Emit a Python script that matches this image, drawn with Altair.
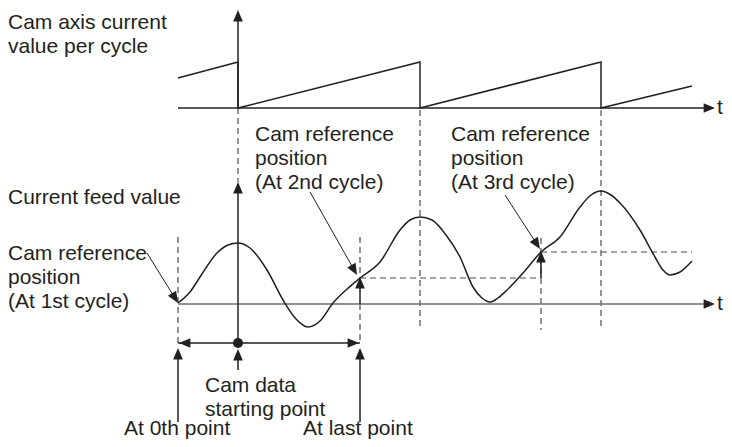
import math
import altair as alt
import pandas as pd

# ---------------- data (pixel coordinates) ----------
X_DOMAIN = [8, 724]
Y_DOMAIN = [8, 439]

# Cam axis current value per cycle (sawtooth)
saw_x = [178, 238, 238, 420, 420, 601, 601, 692]
saw_y = [78, 62, 108, 62, 108, 62, 108, 86]

# Current feed value curve
feed_x = [178, 190, 200, 217, 228, 238, 250, 267, 283, 296, 308, 320, 333, 346,
          360, 380, 400, 410, 420, 432, 446, 460, 473, 482, 490, 498, 507, 523,
          541, 560, 580, 591, 601, 611, 620, 640, 655, 663, 670, 680, 692]
feed_y = [303, 292, 277, 253, 245, 243, 248, 270, 300, 319, 327, 321, 303, 290,
          278, 262, 230, 220, 217, 220, 235, 257, 287, 298, 302, 298, 290, 273,
          252, 237, 207, 195, 191, 195, 203, 230, 257, 270, 275, 272, 261]

# solid black segments: x1, y1, x2, y2
solid_x1 = [238, 178, 238, 360, 541, 178, 238, 178, 360]
solid_y1 = [108, 108, 343, 304, 278, 343, 370, 422, 422]
solid_x2 = [238, 706, 238, 360, 541, 360, 238, 178, 360]
solid_y2 = [16, 108, 188, 282, 256, 343, 355, 352, 352]

# grey axis of the current feed value
gaxis_x1 = [178]
gaxis_y1 = [304]
gaxis_x2 = [706]
gaxis_y2 = [304]

# dashed segments
dash_x1 = [238, 178, 360, 360, 420, 601, 541, 360, 541]
dash_y1 = [108, 237, 237, 304, 110, 110, 238, 278, 252]
dash_x2 = [238, 178, 360, 360, 420, 601, 541, 541, 692]
dash_y2 = [182, 343, 278, 343, 330, 330, 330, 278, 252]

# arrows: tail -> tip
arr_tail_x = [238, 690, 690, 238, 147, 310, 505, 360, 541, 200, 340, 238, 178, 360]
arr_tail_y = [60, 108, 304, 230, 253, 192, 195, 300, 275, 343, 343, 370, 422, 422]
arr_tip_x = [238, 715, 715, 238, 178, 357, 540, 360, 541, 179, 359, 238, 178, 360]
arr_tip_y = [10, 108, 304, 182, 303, 275, 249, 277, 251, 343, 343, 349, 348, 348]
arr_line = [0, 0, 0, 0, 1, 1, 1, 0, 0, 0, 0, 0, 0, 0]  # draw thin shaft?

dot_x = [238]
dot_y = [343]

labels = ["Cam axis current", "value per cycle", "Current feed value",
          "Cam reference", "position", "(At 1st cycle)",
          "Cam reference", "position", "(At 2nd cycle)",
          "Cam reference", "position", "(At 3rd cycle)",
          "Cam data", "starting point", "At 0th point", "At last point",
          "t", "t"]
label_x = [8, 8, 8, 8, 8, 8, 255, 255, 255, 451, 451, 451, 205, 205, 124, 303, 717, 717]
label_y = [29, 53, 204, 260, 284, 308, 141, 165, 189, 141, 165, 189, 392, 416, 435, 435, 114, 310]

# ---------------- build tables ----------------
INK = "#231f20"
GREY = "#6d6e71"
DASH = "#4d4d4f"

xs = alt.Scale(domain=X_DOMAIN, zero=False, nice=False)
ys = alt.Scale(domain=Y_DOMAIN, zero=False, nice=False, reverse=True)


def X(f):
    return alt.X(f, type="quantitative", scale=xs, axis=None)


def Y(f):
    return alt.Y(f, type="quantitative", scale=ys, axis=None)


saw = pd.DataFrame({"x": saw_x, "y": saw_y, "i": range(len(saw_x))})
feed = pd.DataFrame({"x": feed_x, "y": feed_y, "i": range(len(feed_x))})
solid = pd.DataFrame({"x": solid_x1, "y": solid_y1, "x2": solid_x2, "y2": solid_y2})
gaxis = pd.DataFrame({"x": gaxis_x1, "y": gaxis_y1, "x2": gaxis_x2, "y2": gaxis_y2})
dash = pd.DataFrame({"x": dash_x1, "y": dash_y1, "x2": dash_x2, "y2": dash_y2})

HEAD_SIZE = 130
HEAD = math.sqrt(HEAD_SIZE) / 2.0  # half length of head in px
heads = []
shafts = []
for tx, ty, px, py, ln in zip(arr_tail_x, arr_tail_y, arr_tip_x, arr_tip_y, arr_line):
    dx, dy = px - tx, py - ty
    L = math.hypot(dx, dy)
    ux, uy = dx / L, dy / L
    ang = math.degrees(math.atan2(dx, -dy)) % 360
    cx, cy = px - ux * HEAD, py - uy * HEAD
    heads.append({"x": cx, "y": cy, "angle": ang})
    if ln:
        shafts.append({"x": tx, "y": ty, "x2": cx, "y2": cy})
heads = pd.DataFrame(heads)
shafts = pd.DataFrame(shafts)
dots = pd.DataFrame({"x": dot_x, "y": dot_y})
texts = pd.DataFrame({"x": label_x, "y": label_y, "t": labels})

sawtooth = alt.Chart(saw).mark_line(color=INK, strokeWidth=1.5).encode(
    x=X("x"), y=Y("y"), order="i:Q")
curve = alt.Chart(feed).mark_line(color=INK, strokeWidth=1.5, interpolate="monotone").encode(
    x=X("x"), y=Y("y"), order="i:Q")
solid_l = alt.Chart(solid).mark_rule(color=INK, strokeWidth=1.5).encode(
    x=X("x"), y=Y("y"), x2="x2:Q", y2="y2:Q")
gaxis_l = alt.Chart(gaxis).mark_rule(color=GREY, strokeWidth=1.5).encode(
    x=X("x"), y=Y("y"), x2="x2:Q", y2="y2:Q")
dash_l = alt.Chart(dash).mark_rule(color=DASH, strokeWidth=1.2, strokeDash=[6, 4]).encode(
    x=X("x"), y=Y("y"), x2="x2:Q", y2="y2:Q")
shaft_l = alt.Chart(shafts).mark_rule(color=INK, strokeWidth=1).encode(
    x=X("x"), y=Y("y"), x2="x2:Q", y2="y2:Q")
head_m = alt.Chart(heads).mark_point(
    shape="M0,-1L0.85,1L-0.85,1Z", filled=True, color=INK, opacity=1, size=HEAD_SIZE,
    strokeWidth=0).encode(
    x=X("x"), y=Y("y"), angle=alt.Angle("angle:Q", scale=None))
dot_m = alt.Chart(dots).mark_circle(color=INK, opacity=1, size=100).encode(
    x=X("x"), y=Y("y"))
text_m = alt.Chart(texts).mark_text(
    align="left", baseline="alphabetic", font="Liberation Sans", fontSize=21,
    color=INK).encode(x=X("x"), y=Y("y"), text="t:N")

chart = alt.layer(
    dash_l, gaxis_l, sawtooth, curve, solid_l, shaft_l, head_m, dot_m, text_m
).properties(
    width=716, height=431, autosize=alt.AutoSizeParams(type="none"), padding=0,
    background="white"
).configure_view(stroke=None)

chart.save("out.html", embed_options={"renderer": "svg", "actions": False})
